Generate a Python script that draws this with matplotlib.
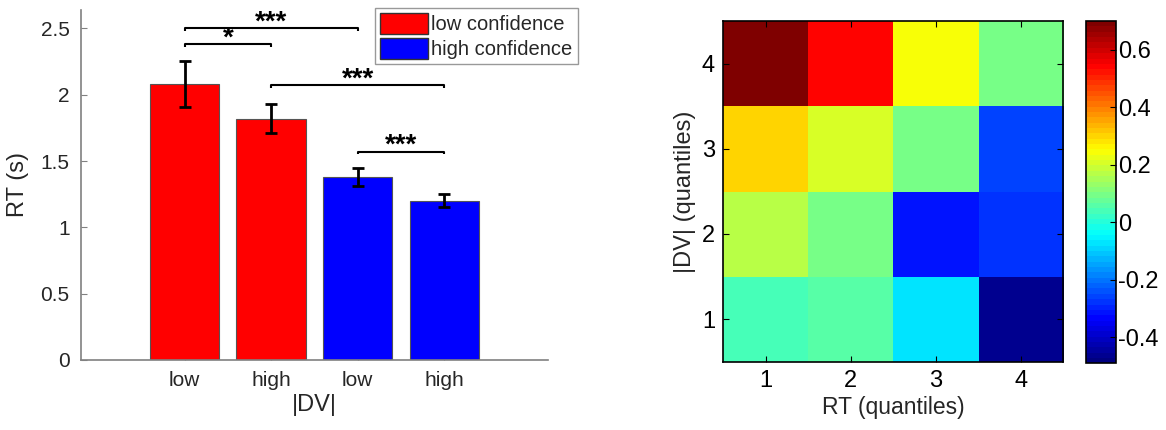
import numpy as np
import matplotlib.pyplot as plt
from matplotlib.patches import Patch
from matplotlib.colors import LinearSegmentedColormap

plt.rcParams['font.family'] = ['Liberation Sans', 'DejaVu Sans']

# --- data: bar plot ---
bar_labels = ["low", "high", "low", "high"]
rt_mean = [2.08, 1.82, 1.38, 1.20]
rt_lo = [1.91, 1.71, 1.31, 1.15]
rt_hi = [2.255, 1.93, 1.45, 1.25]
bar_colors = ["red", "red", "blue", "blue"]
legend_labels = ["low confidence", "high confidence"]

# significance brackets: (bar i, bar j, y, text)
sig_pairs = [(1, 3, 2.50, "***"), (1, 2, 2.38, "*"), (2, 4, 2.07, "***"), (3, 4, 1.57, "***")]

# --- data: heatmap (rows = |DV| quantile 1..4, cols = RT quantile 1..4) ---
heat = np.array([
    [0.04, 0.05, -0.08, -0.47],
    [0.165, 0.09, -0.31, -0.28],
    [0.30, 0.20, 0.10, -0.25],
    [0.70, 0.54, 0.236, 0.10],
])
heat_ticks = [1, 2, 3, 4]
cbar_ticks = [-0.4, -0.2, 0, 0.2, 0.4, 0.6]

# MATLAB-style jet, 64 levels
matlab_jet = LinearSegmentedColormap('mjet', {
    'red':   [(0, 0, 0), (3/8, 0, 0), (5/8, 1, 1), (7/8, 1, 1), (1, 0.5, 0.5)],
    'green': [(0, 0, 0), (1/8, 0, 0), (3/8, 1, 1), (5/8, 1, 1), (7/8, 0, 0), (1, 0, 0)],
    'blue':  [(0, 0.5, 0.5), (1/8, 1, 1), (3/8, 1, 1), (5/8, 0, 0), (1, 0, 0)],
}, N=64)

gray = '#262626'
fig = plt.figure(figsize=(11.66, 4.30), dpi=100)

# ---------------- bar chart ----------------
ax = fig.add_axes([0.0692, 0.163, 0.4008, 0.814])
x = np.arange(1, 5)
ax.bar(x, rt_mean, width=0.8, color=bar_colors, edgecolor='#555555', linewidth=0.8, zorder=2)
yerr = [np.array(rt_mean) - np.array(rt_lo), np.array(rt_hi) - np.array(rt_mean)]
ax.errorbar(x, rt_mean, yerr=yerr, fmt='none', ecolor='black', elinewidth=2,
            capsize=4, capthick=2, zorder=3)
for i, j, y, t in sig_pairs:
    ax.plot([i, i, j, j], [y - 0.02, y, y, y - 0.02], color='black', lw=1.5,
            solid_capstyle='butt', zorder=4)
    ax.text((i + j) / 2, y + 0.045, t, ha='center', va='center', fontsize=20,
            color='black', fontweight='bold')
ax.set_xlim(-0.2, 5.2)
ax.set_ylim(0, 2.64)
ax.set_xticks(x)
ax.set_xticklabels(bar_labels)
ax.set_yticks([0, 0.5, 1, 1.5, 2, 2.5])
ax.set_yticklabels(["0", "0.5", "1", "1.5", "2", "2.5"])
ax.spines['top'].set_visible(False)
ax.spines['right'].set_visible(False)
for s in ['left', 'bottom']:
    ax.spines[s].set_color('#808080')
    ax.spines[s].set_linewidth(1.2)
ax.tick_params(direction='in', length=4, colors='#808080', labelcolor=gray,
               labelsize=15, pad=8)
ax.set_ylabel("RT (s)", fontsize=17, color=gray, labelpad=8)
ax.set_xlabel("|DV|", fontsize=17, color=gray, labelpad=3)
handles = [Patch(facecolor='red', edgecolor='#333333'), Patch(facecolor='blue', edgecolor='#333333')]
leg = ax.legend(handles, legend_labels, loc='upper left', bbox_to_anchor=(0.63, 1.005),
                fontsize=14.5, frameon=True, fancybox=False, handlelength=2.4,
                handleheight=1.2, handletextpad=0.15, borderpad=0.25, labelspacing=0.2,
                borderaxespad=0)
leg.get_frame().set_edgecolor('#808080')
leg.get_frame().set_linewidth(1.0)
for t in leg.get_texts():
    t.set_color(gray)

# ---------------- heatmap ----------------
ax2 = fig.add_axes([0.6203, 0.159, 0.2916, 0.792])
im = ax2.imshow(heat, cmap=matlab_jet, origin='lower', aspect='auto',
                extent=[0.5, 4.5, 0.5, 4.5], vmin=-0.49, vmax=0.70,
                interpolation='nearest')
ax2.set_xticks(heat_ticks)
ax2.set_yticks(heat_ticks)
ax2.tick_params(direction='in', length=4, top=True, right=True, labelsize=17,
                pad=6)
for s in ax2.spines.values():
    s.set_linewidth(1.2)
ax2.set_xlabel("RT (quantiles)", fontsize=16.5, color=gray, labelpad=3)
ax2.set_ylabel("|DV| (quantiles)", fontsize=17, color=gray, labelpad=4)

cax = fig.add_axes([0.9311, 0.155, 0.0257, 0.796])
cb = fig.colorbar(im, cax=cax, ticks=cbar_ticks)
cb.ax.set_yticklabels(["-0.4", "-0.2", "0", "0.2", "0.4", "0.6"])
cb.ax.tick_params(direction='in', length=4, labelsize=17, pad=2)
cb.outline.set_linewidth(1.2)

fig.savefig("out.png", dpi=100)
